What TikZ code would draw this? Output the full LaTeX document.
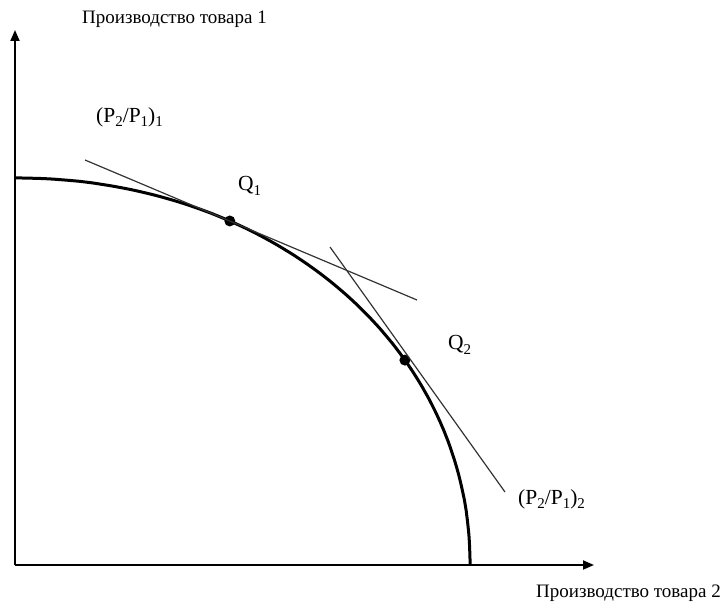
\documentclass[tikz,border=0pt]{standalone}
\usepackage{fontspec}
\setmainfont{Liberation Serif}
\usetikzlibrary{arrows.meta}
\newcommand{\lowsub}[1]{\raisebox{-0.45ex}{\fontsize{15}{15}\selectfont #1}}
\begin{document}
\begin{tikzpicture}[x=1pt,y=-1pt,
  axis/.style={line width=1.9pt,-{Triangle[length=11pt,width=9pt]}},
  frontier/.style={line width=3pt},
  tangent/.style={line width=1.2pt,black!80},
  dot/.style={circle,fill=black,inner sep=0pt,minimum size=11pt},
  axtitle/.style={font=\fontsize{19}{22}\selectfont,inner sep=0pt,anchor=west},
  lbl/.style={font=\fontsize{21.5}{24}\selectfont,inner sep=0pt,anchor=west}]
\useasboundingbox (0,0) rectangle (725,610);
\coordinate (O) at (15,565);
\coordinate (Ytip) at (15,30);
\coordinate (Xtip) at (594,565);
\draw[axis] (O) -- (Ytip);
\draw[axis] (O) -- (Xtip);
\draw[frontier] plot[domain=90:0,samples=120,smooth] ({15+455*pow(abs(cos(\x)),0.9756)},{565-387*pow(abs(sin(\x)),0.9756)});
\node[dot] (Q1) at ({15+455*pow(cos(62.4),0.9756)},{565-387*pow(sin(62.4),0.9756)}) {};
\node[dot] (Q2) at ({15+455*pow(cos(31.4),0.9756)},{565-387*pow(sin(31.4),0.9756)}) {};
\coordinate (T1a) at (85,160);
\coordinate (T1b) at (417,300);
\coordinate (T2a) at (330,247);
\coordinate (T2b) at (505,492);
\draw[tangent] (T1a) -- (T1b);
\draw[tangent] (T2a) -- (T2b);
\node[axtitle] (ytitle) at (82,19) {Производство товара 1};
\node[axtitle] (xtitle) at (536,593) {Производство товара 2};
\node[lbl] (l1) at (96,117) {(P\lowsub{2}/P\lowsub{1})\lowsub{1}};
\node[lbl] (q1) at (238,186) {Q\lowsub{1}};
\node[lbl] (q2) at (448,345) {Q\lowsub{2}};
\node[lbl] (l2) at (518,499) {(P\lowsub{2}/P\lowsub{1})\lowsub{2}};
\end{tikzpicture}
\end{document}
